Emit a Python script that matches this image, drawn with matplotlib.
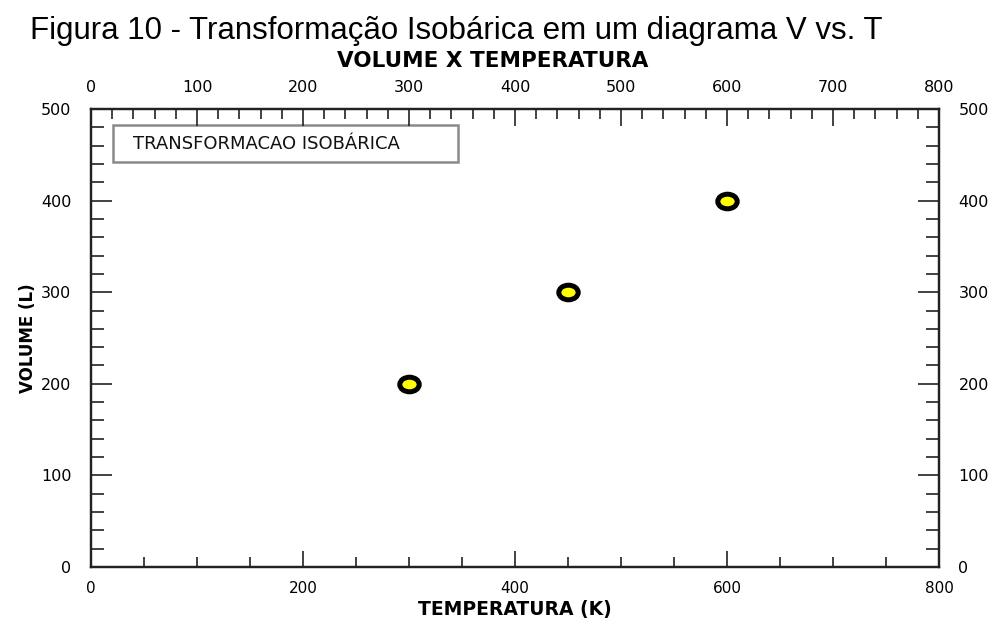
import matplotlib
matplotlib.use('Agg')
import matplotlib.pyplot as plt
from matplotlib.path import Path
from matplotlib.transforms import Affine2D
from matplotlib.patches import Rectangle
from matplotlib.ticker import MultipleLocator

# data
temperatura = [300, 450, 600]   # K
volume = [200, 300, 400]        # L

x_lim = (0, 800)
y_lim = (0, 500)

fig_title = 'Figura 10 - Transformação Isobárica em um diagrama V vs. T'
ax_title = 'VOLUME X TEMPERATURA'
x_label = 'TEMPERATURA (K)'
y_label = 'VOLUME (L)'
box_text = 'TRANSFORMACAO ISOBÁRICA'

fig = plt.figure(figsize=(9.99, 6.21), dpi=100)
ax = fig.add_axes([91/999, 1 - 567/621, 848/999, 458/621])

# slightly flattened ring marker like the original
ell = Path.unit_circle().transformed(Affine2D().scale(1, 0.75))
ax.plot(temperatura, volume, linestyle='none', marker=ell, markersize=14,
        markerfacecolor='#ffff00', markeredgecolor='black', markeredgewidth=3.6,
        zorder=5, clip_on=False)

ax.set_xlim(*x_lim)
ax.set_ylim(*y_lim)

for s in ax.spines.values():
    s.set_linewidth(1.6)
    s.set_color('#222222')

ax.xaxis.set_major_locator(MultipleLocator(200))
ax.xaxis.set_minor_locator(MultipleLocator(50))
ax.yaxis.set_major_locator(MultipleLocator(100))
ax.yaxis.set_minor_locator(MultipleLocator(20))

# top axis has its own tick spacing
top = ax.twiny()
top.set_xlim(*x_lim)
top.xaxis.set_major_locator(MultipleLocator(100))
top.xaxis.set_minor_locator(MultipleLocator(20))
top.tick_params(axis='x', which='both', direction='in', width=1.2, color='#222222')
top.tick_params(axis='x', which='major', length=12, pad=10, labelsize=11.5)
top.tick_params(axis='x', which='minor', length=7)
for s in top.spines.values():
    s.set_linewidth(1.6)
    s.set_color('#222222')

ax.tick_params(axis='x', which='both', direction='in', top=False, bottom=True,
               width=1.2, color='#222222')
ax.tick_params(axis='x', which='major', length=11.5, pad=10, labelsize=11)
ax.tick_params(axis='x', which='minor', length=7)
ax.tick_params(axis='y', which='both', direction='in', left=True, right=True,
               labelleft=True, labelright=True, width=1.2, color='#222222')
ax.tick_params(axis='y', which='major', length=15, pad=14, labelsize=11.5)
ax.tick_params(axis='y', which='minor', length=9.5)

ax.set_xlabel(x_label, fontsize=13.5, fontweight='bold', labelpad=3)
ax.set_ylabel(y_label, fontsize=12, fontweight='bold', labelpad=3)

fig.text(493/999, 1 - 67/621, ax_title, ha='center', va='baseline',
         fontsize=15.5, fontweight='bold')
fig.text(30/999, 1 - 39/621, fig_title, ha='left', va='baseline',
         fontsize=22.5, family=['Liberation Sans', 'DejaVu Sans'])

# label box in the upper left corner
ax.add_patch(Rectangle((0.026, 0.884), 0.407, 0.081, transform=ax.transAxes,
                       facecolor='white', edgecolor='#8a8a8a', linewidth=1.8,
                       zorder=4))
ax.text(0.0495, 0.9236, box_text, transform=ax.transAxes, ha='left',
        va='center', fontsize=13, color='#111111', zorder=6)

fig.savefig('out.png', dpi=100)
